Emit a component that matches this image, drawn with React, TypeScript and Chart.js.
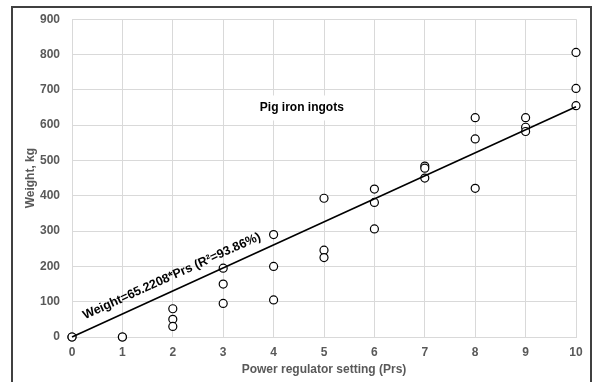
import React, { useEffect, useRef } from "react";
import { Chart, registerables } from "chart.js";

Chart.register(...registerables);

const prs = [0, 0, 1, 1, 2, 2, 2, 3, 3, 3, 4, 4, 4, 5, 5, 5, 6, 6, 6, 7, 7, 7, 8, 8, 8, 9, 9, 9, 10, 10, 10];
const weight = [0, 0, 0, 0, 80, 50, 30, 195, 150, 95, 290, 200, 105, 393, 246, 225, 419, 381, 306, 484, 478, 450, 621, 561, 421, 621, 594, 582, 806, 704, 655];
const slope = 65.2208;
const trendX = [0, 10];
const xTicks = [0, 10, 1];
const yTicks = [0, 900, 100];
const titleText = "Pig iron ingots";
const eqText = "Weight=65.2208*Prs (R\u00B2=93.86%)";
const xTitle = "Power regulator setting (Prs)";
const yTitle = "Weight, kg";

const FONT = "'Liberation Sans', Arial, sans-serif";
const GRAY = "#595959";
const GRID = "#d9d9d9";

const labelsPlugin = {
  id: "labelsPlugin",
  afterDatasetsDraw(chart: any) {
    const { ctx, scales } = chart;
    const xs = scales.x;
    const ys = scales.y;
    ctx.save();
    const tx = xs.getPixelForValue(4.56);
    const ty = ys.getPixelForValue(650);
    ctx.font = `bold 12px ${FONT}`;
    const w = ctx.measureText(titleText).width;
    ctx.fillStyle = "#ffffff";
    ctx.fillRect(tx - w / 2 - 8, ty - 12, w + 16, 25);
    ctx.fillStyle = "#000000";
    ctx.textAlign = "center";
    ctx.textBaseline = "middle";
    ctx.fillText(titleText, tx, ty);
    ctx.font = `bold 12.5px ${FONT}`;
    const ex = xs.getPixelForValue(1.98);
    const ey = ys.getPixelForValue(172);
    ctx.translate(ex, ey);
    ctx.rotate((-24.3 * Math.PI) / 180);
    ctx.fillText(eqText, 0, 0);
    ctx.restore();
  },
};

export default function App() {
  const ref = useRef<HTMLCanvasElement>(null);
  useEffect(() => {
    if (!ref.current) return;
    const points = prs.map((p, i) => ({ x: p, y: weight[i] }));
    const trend = trendX.map((t) => ({ x: t, y: slope * t }));
    const chart = new Chart(ref.current, {
      type: "scatter",
      data: {
        datasets: [
          {
            type: "line",
            data: trend,
            borderColor: "#000000",
            borderWidth: 1.6,
            pointRadius: 0,
            fill: false,
            clip: false,
          } as any,
          {
            data: points,
            pointRadius: 4,
            pointBorderWidth: 1.2,
            pointBorderColor: "#000000",
            pointBackgroundColor: "#ffffff",
            clip: false,
          } as any,
        ],
      },
      options: {
        animation: false,
        responsive: false,
        layout: { padding: { left: 20, top: 19, right: 18, bottom: 0 } },
        plugins: { legend: { display: false }, tooltip: { enabled: false } },
        scales: {
          x: {
            type: "linear",
            min: xTicks[0],
            max: xTicks[1],
            ticks: { stepSize: xTicks[2], color: GRAY, padding: 8, font: { family: FONT, size: 12, weight: "bold" } },
            grid: { color: GRID, drawTicks: false, lineWidth: 1 },
            border: { color: GRID },
            title: { display: true, text: xTitle, color: GRAY, padding: { top: 0, bottom: 5 }, font: { family: FONT, size: 12, weight: "bold" } },
            afterFit: (s: any) => { s.height = 45; },
          },
          y: {
            type: "linear",
            min: yTicks[0],
            max: yTicks[1],
            ticks: { stepSize: yTicks[2], color: GRAY, padding: 12, font: { family: FONT, size: 12, weight: "bold" } },
            grid: { color: GRID, drawTicks: false, lineWidth: 1 },
            border: { color: GRID },
            title: { display: true, text: yTitle, color: GRAY, padding: { top: 3.5, bottom: 0 }, font: { family: FONT, size: 12, weight: "bold" } },
            afterFit: (s: any) => { s.width = 52; },
          },
        },
      },
      plugins: [labelsPlugin],
    });
    return () => chart.destroy();
  }, []);
  return (
    <div style={{ position: "fixed", left: 0, top: 0, width: 594, height: 382, overflow: "hidden", background: "#fff" }}>
      <div
        style={{
          position: "absolute",
          left: 11,
          top: 6,
          width: 577,
          height: 400,
          borderTop: "2px solid #404040",
          borderLeft: "2px solid #404040",
          borderRight: "2px solid #404040",
        }}
      />
      <canvas ref={ref} width={594} height={382} style={{ position: "absolute", left: 0, top: 0, width: 594, height: 382 }} />
    </div>
  );
}
